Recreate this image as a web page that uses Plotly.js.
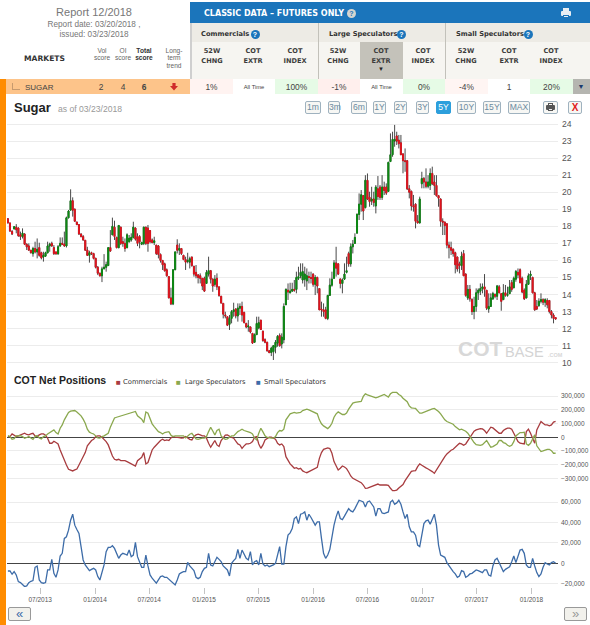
<!DOCTYPE html>
<html><head><meta charset="utf-8">
<script src="https://cdn.plot.ly/plotly-3.0.1.min.js"></script>
<style>
html,body{margin:0;padding:0;background:#fff;width:590px;height:625px;overflow:hidden}
#chart{position:absolute;left:0;top:0;width:590px;height:625px}
#ui{position:absolute;left:0;top:0;width:590px;height:625px;pointer-events:none;font-family:"Liberation Sans",Arial,sans-serif}
#ui div{position:absolute;box-sizing:border-box;white-space:nowrap}
.c{text-align:center;transform:translateX(-50%)}
.h{font-family:"DejaVu Sans",sans-serif;font-weight:bold;font-size:6.6px;color:#3c3c3c;line-height:10px;text-align:center;transform:translateX(-50%)}
.g{font-family:"DejaVu Sans",sans-serif;font-weight:bold;font-size:6.7px;color:#333;top:30px;line-height:9px}
.q{width:9px;height:9px;border-radius:50%;background:#1b75bb;color:#fff;font:bold 7px/9px "Liberation Sans";text-align:center;top:29.5px}
.s{font-size:6.6px;color:#666;line-height:7.4px;text-align:center;transform:translateX(-50%);top:47px}
.v{font-size:8.4px;color:#444;top:83px;line-height:9px;text-align:center;transform:translateX(-50%)}
.cell{top:79px;height:15px}
.b{top:100.5px;height:13px;border:1px solid #9fb2bf;border-radius:2px;background:#f7f7f4;color:#6b8aa0;font-size:8.6px;line-height:11px;text-align:center}
</style></head><body>
<div id="chart"></div>
<div id="ui"></div>
<script>
var open=[18.45,18.2,17.7,17.85,17.95,17.9,17.5,17.4,17.55,16.95,16.85,16.6,16.4,16.7,16.5,16.75,16.45,16.2,16.25,16.45,
16.85,17.0,16.75,16.5,16.38,16.85,17.0,16.95,16.85,18.5,18.95,19.5,19.0,18.25,18.1,17.55,17.4,17.18,16.6,16.3,
16.45,16.4,16.12,15.6,15.25,15.1,15.5,15.6,15.7,16.75,17.5,17.95,17.35,16.75,17.95,17.1,17.0,16.75,17.1,17.2,
17.35,17.9,17.4,17.4,16.95,17.0,17.95,17.9,17.75,17.2,17.05,16.9,16.85,16.35,16.0,15.8,15.45,15.05,13.8,13.45,
15.45,16.9,16.6,16.7,16.3,16.05,15.95,15.9,16.2,15.65,15.3,15.15,15.1,14.95,14.95,14.65,15.2,15.4,14.9,14.6,
14.95,14.45,13.9,13.48,12.8,12.7,12.25,12.6,13.0,13.15,12.75,13.2,13.3,12.95,12.3,12.1,12.1,11.72,11.2,11.65,
12.05,12.5,11.85,11.35,11.2,10.7,10.6,10.65,10.9,11.15,11.6,11.1,11.35,13.4,14.25,14.1,14.2,14.3,14.3,14.95,
15.1,14.85,14.9,14.8,15.05,15.0,15.2,14.6,15.0,14.35,13.15,13.1,13.1,12.6,13.95,14.55,14.95,15.85,15.8,14.9,
14.65,14.9,15.3,16.4,15.8,16.8,17.0,17.6,18.7,19.3,19.8,19.1,20.7,19.7,19.5,19.6,19.2,20.2,20.3,19.7,
20.3,20.3,20.05,21.8,22.2,23.0,23.3,23.05,22.9,22.25,21.85,21.85,20.2,20.05,19.2,19.3,18.3,18.2,20.5,20.8,
20.6,20.35,20.4,21.1,20.6,20.4,19.8,19.6,18.3,18.25,18.15,16.9,16.75,16.65,16.45,16.2,15.8,15.7,16.4,15.2,
13.8,14.3,13.7,13.0,13.3,14.1,14.2,14.35,14.45,14.25,13.15,13.3,13.75,14.0,13.9,14.45,14.05,13.7,14.1,13.95,
14.05,14.7,14.4,14.9,15.3,15.45,14.95,14.25,13.8,14.6,15.1,15.0,14.1,13.3,13.35,13.6,13.7,13.55,13.65,13.65,
13.0,12.8,12.65];
var high=[18.47,18.2,17.78,18.02,18.13,17.94,17.69,17.88,17.59,17.0,17.0,16.61,16.8,17.1,17.29,17.04,16.51,16.51,16.51,17.1,
17.04,17.1,16.9,16.51,16.9,17.35,17.35,17.69,18.57,18.96,20.17,19.7,19.05,18.27,18.13,17.59,17.49,17.2,16.8,16.57,
16.51,16.45,16.16,15.67,15.28,15.63,16.37,15.93,16.76,17.78,18.51,18.33,17.39,18.08,17.98,17.39,17.29,17.59,17.49,17.59,
18.27,17.94,17.59,17.49,17.1,17.98,17.98,18.08,17.78,17.29,17.39,16.9,16.9,16.41,16.02,15.87,15.53,15.05,14.4,15.48,
16.51,17.24,17.0,16.71,16.32,16.22,16.45,16.22,16.22,15.69,15.73,15.2,15.24,14.95,15.05,15.44,16.22,15.44,14.95,15.14,
15.24,14.46,13.91,13.48,12.99,12.7,12.8,13.09,13.52,13.19,13.48,13.48,13.58,12.99,12.35,12.5,12.11,11.72,11.72,12.7,
12.7,12.5,11.88,11.43,11.23,10.75,10.94,11.04,11.33,11.62,11.72,11.72,13.48,14.36,14.65,14.69,14.69,14.85,15.34,15.63,
15.83,15.83,15.63,15.53,15.34,15.34,15.24,15.14,15.05,14.36,13.58,13.48,13.28,13.97,14.95,15.34,16.02,16.8,15.83,14.95,
14.95,15.83,16.22,16.51,17.0,17.2,17.59,18.76,19.93,20.13,19.84,21.0,21.1,20.03,20.32,20.03,20.42,20.95,20.42,21.0,
20.62,20.52,21.79,23.45,23.55,23.95,23.55,23.36,23.36,22.28,22.57,21.89,20.42,20.1,19.84,19.35,18.66,19.74,21.2,20.9,
21.4,21.0,21.4,21.5,21.0,21.0,19.84,19.64,18.47,18.27,18.17,17.1,17.1,16.71,16.51,16.22,15.93,16.51,16.61,15.24,
14.56,14.56,13.78,13.87,14.36,14.36,14.65,14.65,15.2,14.26,14.07,14.07,14.16,14.07,14.56,14.56,14.07,14.61,14.56,14.46,
14.85,14.85,15.05,15.44,15.53,15.53,15.05,14.36,14.85,15.24,15.4,15.05,14.16,13.68,13.78,14.07,13.78,13.78,13.78,13.68,
13.09,12.9,12.66];
var low=[18.17,17.69,17.49,17.82,17.59,17.39,17.2,17.29,16.9,16.61,16.57,16.41,16.22,16.41,16.12,16.22,16.06,15.93,16.22,16.41,
16.51,16.8,16.32,16.35,16.35,16.8,16.9,16.8,16.76,18.47,18.96,18.57,18.27,18.08,17.49,17.35,17.16,16.57,16.26,15.87,
16.32,16.06,15.53,15.14,15.05,14.73,15.53,15.34,15.67,16.51,17.49,17.2,16.71,16.71,16.9,16.8,16.51,16.71,17.04,17.1,
17.29,17.16,16.84,16.71,16.9,16.9,16.9,16.51,17.0,17.0,16.9,16.32,16.12,15.87,15.44,15.34,15.05,13.78,13.38,13.38,
15.44,16.41,16.32,16.32,16.02,15.44,15.83,15.53,15.63,15.05,14.95,14.65,14.65,14.26,14.16,14.65,15.05,14.65,14.16,14.46,
14.26,13.87,13.48,12.6,12.6,12.15,11.92,12.31,12.7,12.6,12.41,12.8,12.41,12.31,12.02,11.82,11.72,11.1,11.18,11.62,
11.96,11.92,11.23,11.14,10.65,10.55,10.39,10.16,10.55,10.94,10.94,10.84,11.14,13.44,13.68,14.07,14.16,14.16,14.07,14.85,
14.95,14.65,14.46,14.26,14.65,14.65,14.46,13.97,14.07,13.09,12.7,12.7,12.55,12.5,13.97,14.46,14.95,15.05,15.14,14.36,
14.07,14.85,15.24,15.63,15.63,16.41,17.0,17.59,18.37,18.86,18.37,19.05,19.55,19.15,19.25,19.15,18.76,19.55,19.55,19.55,
19.84,19.84,20.03,21.79,22.08,22.67,22.77,22.57,22.18,21.11,21.2,20.13,19.64,18.92,18.86,17.88,18.17,18.17,20.23,20.23,
20.23,20.23,20.13,20.42,19.84,19.74,19.15,17.98,17.49,17.49,16.71,16.12,16.32,16.22,15.24,15.34,15.24,15.44,15.14,13.87,
13.68,13.58,12.8,12.55,12.99,13.68,13.97,14.07,13.87,13.09,12.93,13.28,13.68,13.78,13.68,14.07,13.05,13.87,13.87,13.87,
14.07,14.16,14.36,14.75,14.95,14.65,14.07,13.68,13.78,14.56,14.85,14.07,13.05,13.09,13.28,13.48,13.38,13.28,13.19,12.89,
12.6,12.31,12.54];
var close=[18.2,17.72,17.55,17.98,17.8,17.45,17.4,17.6,16.95,16.8,16.6,16.45,16.7,16.5,16.65,16.3,16.15,16.3,16.45,16.85,
16.95,16.85,16.4,16.38,16.8,17.0,16.95,16.85,18.5,18.9,19.5,18.95,18.3,18.1,17.55,17.4,17.2,16.6,16.3,16.45,
16.4,16.12,15.6,15.25,15.1,15.5,15.6,15.75,16.75,16.55,18.0,17.4,16.75,18.05,17.0,17.0,16.7,17.5,17.3,17.35,
17.95,17.25,17.0,17.1,17.05,17.95,17.0,17.0,17.1,17.05,17.15,16.4,16.35,16.0,15.75,15.4,15.1,13.8,13.45,15.45,
16.5,16.6,16.7,16.4,16.05,15.9,15.98,16.1,15.7,15.2,15.1,15.0,14.95,14.5,14.2,15.3,15.4,14.9,14.5,14.9,
14.45,13.95,13.5,12.85,12.75,12.2,12.6,13.0,13.1,12.75,13.2,13.3,12.8,12.35,12.1,12.15,11.8,11.15,11.65,12.3,
12.35,11.95,11.3,11.2,10.7,10.6,10.85,11.0,11.2,11.55,11.0,11.5,13.3,14.3,14.15,14.2,14.3,14.25,15.0,15.05,
15.3,15.35,15.2,15.1,15.0,14.95,14.6,15.0,14.5,13.1,13.1,13.0,12.6,13.95,14.55,14.9,15.85,15.55,15.2,14.65,
14.85,15.2,15.4,15.8,16.8,16.95,17.35,18.7,19.3,19.85,18.9,20.7,19.6,19.45,19.6,19.4,20.3,19.75,19.7,20.3,
20.1,19.95,21.75,22.2,23.1,23.1,23.0,22.85,22.2,21.85,21.8,20.2,20.0,19.2,19.15,18.3,18.2,19.6,20.8,20.6,
20.35,20.6,21.1,20.5,20.4,19.8,19.65,18.3,18.25,18.05,16.9,16.75,16.6,16.4,15.75,15.5,15.7,16.25,15.1,13.95,
14.3,13.75,13.0,13.3,14.1,14.25,14.35,14.45,14.3,13.2,13.3,13.8,14.05,13.9,14.5,14.1,13.6,14.1,13.95,14.0,
14.45,14.3,14.95,15.35,15.15,14.7,14.15,13.75,14.6,15.1,15.2,14.1,13.1,13.15,13.6,13.7,13.55,13.7,13.4,13.0,
12.8,12.6,12.56];
var commercials=[5,5,24,15,5,10,17,24,29,20,17,24,29,10,5,17,24,24,15,-7,-44,-44,-29,-39,-49,-93,-129,-178,-203,-234,-242,-246,-239,-232,-203,-171,-146,-112,-63,-39,
-24,-15,5,10,10,0,-15,-32,-56,-105,-137,-161,-166,-161,-171,-171,-171,-178,-185,-195,-203,-210,-171,-161,-146,-112,-195,-185,-146,-93,-73,-56,-39,-24,-15,-24,-20,-24,-5,5,
0,0,-2,-7,-5,5,-7,-15,-20,5,17,22,17,10,10,-7,-44,-73,-49,-24,-56,-68,-24,-7,15,17,5,-2,-7,-32,-49,-56,-81,-63,-49,-49,-44,-32,0,5,
-49,-81,-56,-20,-7,0,0,-5,-15,-44,-56,-49,-68,-142,-171,-195,-210,-227,-222,-232,-227,-246,-254,-259,-251,-244,-234,-229,-220,-154,-112,-88,-81,-78,-83,-117,-178,-215,-239,-227,
-210,-217,-229,-254,-283,-300,-307,-315,-325,-332,-349,-373,-371,-366,-361,-354,-346,-342,-349,-351,-349,-349,-351,-373,-390,-390,-386,-371,-356,-346,-317,-293,-268,-249,-246,-244,-215,-195,-205,-217,
-224,-232,-239,-251,-264,-239,-215,-195,-161,-142,-122,-105,-95,-88,-73,-56,-44,-49,-59,-49,-24,0,24,44,54,59,63,61,49,29,49,73,68,54,44,29,29,49,59,66,
66,59,29,-7,-32,-44,-49,-49,41,59,29,-7,-44,54,90,115,102,90,90,83,90,110,115];
var largeSpeculators=[12,5,-15,-10,10,10,12,5,-7,-2,5,-5,-15,5,12,-5,-12,5,10,24,34,49,54,34,24,66,90,127,151,181,190,195,195,185,171,156,132,102,59,37,
29,24,10,-5,-7,5,10,17,29,73,115,141,146,151,156,159,163,166,171,176,183,188,156,146,132,107,185,176,139,98,78,59,41,34,24,34,39,41,15,5,
10,10,12,12,10,-5,10,22,29,5,-12,-15,-10,-7,-7,5,41,73,46,17,49,59,10,-7,-15,-12,0,10,10,29,41,49,59,49,41,39,34,24,-7,-20,
29,66,39,10,-2,-7,-7,-7,5,34,49,46,59,127,151,171,176,181,176,181,181,195,203,205,200,193,190,183,171,127,98,83,73,63,78,102,146,171,185,176,
166,166,176,205,229,249,254,256,259,261,298,317,310,303,298,293,288,293,298,303,312,303,293,317,327,327,327,312,303,285,273,259,229,215,212,210,193,176,176,183,
188,195,200,207,210,200,188,171,146,127,115,107,100,95,78,63,54,59,54,44,29,5,-15,-39,-54,-59,-59,-54,-39,-24,-49,-73,-68,-59,-49,-24,-24,-39,-44,-59,
-66,-59,-32,10,24,34,34,37,-49,-59,-44,-7,17,-63,-81,-105,-100,-93,-88,-88,-98,-117,-117];
var smallSpeculators=[-7.5,-7.5,-10.7,-8.1,-11.4,-17.9,-18.9,-21.1,-22.8,-22.1,-18.9,-17.6,-16.9,-3.9,-2.6,-16.3,-18.9,-19.5,-18.9,-6.5,-6.5,3.9,-9.8,-13.7,-6.5,7.2,9.8,24.4,26,32.5,42.3,48.1,37.4,33.2,29.3,16.3,3.3,-1.6,-4.9,-7.2,
-5.9,-4.9,-6.5,-13,-16.3,-9.8,-1.6,11.4,15.6,15.6,17.2,14.6,9.8,4.9,8.1,9.8,9.1,8.1,13,6.5,8.1,20.5,6.5,1.6,-3.9,-3.9,8.1,-2.6,-11.4,-14.6,-16.9,-19.5,-16.3,-13,-12.4,-13.7,-13.7,-15.6,-16.9,-18.9,
-21.1,-16.3,-10.4,-9.1,-8.1,-8.1,1,-2.6,-4.9,-7.2,-13.7,-15,-13.7,-8.1,-4.9,-3.9,9.8,-1.6,-2.6,1.6,5.9,3.9,1.6,-2.6,-4.9,-6.5,-12.4,0,2.6,4.9,13.7,4.9,13,8.1,4.9,3.3,11.4,-1.6,1.6,2.6,
-1.6,9.8,-0.7,-2.6,-1.6,-3.3,-2.6,-1.6,0,9.8,16.3,-0.7,-0.7,16.3,27.6,29.9,34.1,43.9,45.5,39,48.1,48.8,50.4,42.3,48.1,44.9,41.6,37.4,40.6,40.6,24.4,9.8,4.9,8.1,13.7,26,37.4,45.5,51.4,43.9,
42.9,46.2,49.4,53.6,51.4,50.4,53.6,57.9,61.8,61.1,60.1,55.3,60.1,61.1,58.5,55.3,46.2,53.6,53.6,49.4,48.8,49.4,50.4,60.1,61.8,57.9,59.2,61.8,57.9,50.4,43.9,48.1,35.8,30.9,30.9,27.6,17.9,16.3,29.3,39,
41.6,42.3,38.4,43.9,48.1,37.4,17.9,8.1,7.2,5.9,0.7,-2.6,-4.9,-8.1,-10.4,-13.7,-12.4,-7.2,-8.1,-13.7,-12.4,-10.4,-9.8,-8.1,-6.5,-7.2,-8.1,-9.1,-6.5,-6.5,-11.4,-12.4,-2.6,3.3,4.9,0.7,-3.9,-8.1,-5.9,-4.9,
-3.3,1.6,7.2,0.7,8.1,13,13.7,9.8,-1.6,-3.9,-3.9,4.9,-2.6,-9.1,-13,-10.4,-3.9,0.7,-0.7,-1.6,0.7,1.6,0];
var priceTicks=[10,11,12,13,14,15,16,17,18,19,20,21,22,23,24];
var rangeButtons=["1m","3m","6m","1Y","2Y","3Y","5Y","10Y","15Y","MAX"];

var dates=[];var t0=Date.UTC(2013,2,15);
for(var i=0;i<close.length;i++){dates.push(new Date(t0+i*7*864e5).toISOString().slice(0,10));}
var bodyHigh=open.map(function(o,i){return Math.max(o,close[i]);});
var bodyLow=open.map(function(o,i){return Math.min(o,close[i]);});
function k(a,m){return a.map(function(v){return v*m;});}

var wick={type:"candlestick",x:dates,open:open,high:high,low:low,close:close,xaxis:"x",yaxis:"y",hoverinfo:"skip",showlegend:false,
 increasing:{line:{color:"#1a1a1a",width:0.8},fillcolor:"rgba(0,0,0,0)"},decreasing:{line:{color:"#1a1a1a",width:0.8},fillcolor:"rgba(0,0,0,0)"},whiskerwidth:0};
var body={type:"candlestick",x:dates,open:open,high:bodyHigh,low:bodyLow,close:close,xaxis:"x",yaxis:"y",hoverinfo:"skip",showlegend:false,
 increasing:{line:{color:"#0b8a12",width:0.9},fillcolor:"#0b8a12"},decreasing:{line:{color:"#e3121c",width:0.9},fillcolor:"#e3121c"},whiskerwidth:0};
function ln(y,axis,color,name){return {type:"scatter",mode:"lines",x:dates,y:y,yaxis:axis,xaxis:"x",name:name,line:{color:color,width:1.3},hoverinfo:"skip",showlegend:false};}
var traces=[wick,body,
 ln(k(commercials,1000),"y2","#a83c3f","Commercials"),
 ln(k(largeSpeculators,1000),"y2","#8aa84e","Large Speculators"),
 ln(k(smallSpeculators,1000),"y3","#3d6ca8","Small Speculators")];

function fy(py){return 1-py/625;}
var tf={family:'"Liberation Sans",Arial,sans-serif',size:6.5,color:"#555"};
function ann(text,x,y,size,color,fam,anchor){return {text:text,xref:"paper",yref:"paper",x:x/590,y:fy(y),xanchor:anchor||"left",yanchor:"middle",showarrow:false,borderpad:0,
 font:{family:fam||'"Liberation Sans",Arial,sans-serif',size:size,color:color}};}
var dj='"DejaVu Sans",sans-serif';
var layout={width:590,height:625,margin:{l:0,r:0,t:0,b:0,pad:0},paper_bgcolor:"rgba(0,0,0,0)",plot_bgcolor:"rgba(0,0,0,0)",showlegend:false,boxmode:"overlay",
 xaxis:{type:"date",domain:[7/590,558/590],range:["2013-03-12","2018-03-31"],anchor:"y3",rangeslider:{visible:false},dtick:"M6",tick0:"2013-07-01",tickformat:"%m/%Y",ticks:"outside",ticklen:6,tickcolor:"#c4c4c4",tickwidth:1,showgrid:false,showline:false,zeroline:false,tickfont:tf},
 yaxis:{domain:[fy(368),fy(122)],range:[9.69,24.12],side:"right",anchor:"x",tickmode:"array",tickvals:priceTicks,ticktext:priceTicks.map(String),gridcolor:"#ececec",gridwidth:1,zeroline:false,showline:false,ticks:"",ticklabelstandoff:3,tickfont:{family:tf.family,size:8.6,color:"#555"}},
 yaxis2:{domain:[fy(492),fy(390)],range:[-400000,345000],side:"right",anchor:"x",tickvals:[-300000,-200000,-100000,0,100000,200000,300000],tickformat:",d",gridcolor:"#ececec",zeroline:true,zerolinecolor:"#444",zerolinewidth:1,showline:false,ticks:"",ticklabelstandoff:2,tickfont:tf},
 yaxis3:{domain:[fy(587),fy(497)],range:[-23200,65000],side:"right",anchor:"x",tickvals:[-20000,0,20000,40000,60000],tickformat:",d",gridcolor:"#ececec",zeroline:true,zerolinecolor:"#444",zerolinewidth:1,showline:false,ticks:"",ticklabelstandoff:2,tickfont:tf},
 annotations:[
  ann("<b>Sugar</b>",12.5,107,13,"#222"),
  ann("as of 03/23/2018",57,109,8.6,"#999"),
  ann("<b>COT Net Positions</b>",12.5,380,10.5,"#222"),
  ann('<span style="color:#a83c3f">■</span>',114.5,382,8,"#a83c3f"),
  ann("Commercials",122,382,6.8,"#333",dj),
  ann('<span style="color:#8aa84e">■</span>',175.5,382,8,"#8aa84e"),
  ann("Large Speculators",184,382,6.7,"#333",dj),
  ann('<span style="color:#3d6ca8">■</span>',254.5,382,8,"#3d6ca8"),
  ann("Small Speculators",263,382,6.9,"#333",dj),
  ann("<b>COT</b>",457,348,21,"#d8d8d8"),
  ann("BASE",504,352,14.5,"#d4d4d4"),
  ann("<b>.COM</b>",547,355,5.5,"#d8d8d8")
 ]};
Plotly.newPlot("chart",traces,layout,{staticPlot:true,displayModeBar:false});

var u=document.getElementById("ui"),html="";
function d(style,cls,txt){html+='<div class="'+(cls||"")+'" style="'+style+'">'+(txt||"")+'</div>';}
d("left:0;top:79px;width:6px;height:546px;background:#ff8c00");
d("left:6px;top:79px;width:184px;height:15px;background:#fdc48a");
d("left:190px;top:2px;width:400px;height:21px;background:#1b75bb");
d("left:190px;top:23px;width:400px;height:19px;background:#edebe5");
d("left:190px;top:42px;width:400px;height:37px;background:#f6f5f1");
d("left:190px;top:23px;width:1.5px;height:56px;background:#cfcfcf");
d("left:318px;top:23px;width:1px;height:56px;background:#c2c1ba");
d("left:445px;top:23px;width:1px;height:56px;background:#c2c1ba");
d("left:360px;top:42px;width:43px;height:37px;background:#c4c2ba");
d("left:94px;top:6px;font-size:11px;color:#777;line-height:12px","c","Report 12/2018");
d("left:94px;top:20px;font-size:8.2px;color:#777;line-height:10px","c","Report date: 03/20/2018 ,");
d("left:94px;top:30px;font-size:8.2px;color:#777;line-height:10px","c","issued: 03/23/2018");
d("left:24px;top:54px;font:bold 7.6px/10px 'DejaVu Sans';color:#333","","MARKETS");
d("left:102px","s","Vol<br>score");
d("left:123px","s","OI<br>score");
d("left:144px;font-weight:bold;color:#333","s","Total<br>score");
d("left:174px;top:47px","s","Long-<br>term<br>trend");
d("left:12px;top:83px;width:8px;height:7px;border-left:1px solid #c79a6e;border-bottom:1px solid #c79a6e");
d("left:25px;top:83px;font-size:8px;color:#444;line-height:9px","","SUGAR");
d("left:101px","v","2");d("left:123px","v","4");d("left:144px;font-weight:bold","v","6");
d("left:170px;top:82.5px;width:8px;height:8px;background:#cf2b2b;clip-path:polygon(30% 0,70% 0,70% 45%,100% 45%,50% 100%,0 45%,30% 45%)");
d("left:204px;top:8px;font:bold 8px/11px 'DejaVu Sans';color:#fff","","CLASSIC DATA – FUTURES ONLY");
d("left:347px;top:8.5px;background:#d5d5d0;color:#1b75bb;width:9px;height:9px;border-radius:50%;font:bold 7px/9px 'Liberation Sans';text-align:center","","?");
d("left:563px;top:8px;width:6px;height:4px;background:#e8eef3");
d("left:561px;top:11px;width:10px;height:5px;background:#e8eef3;border-radius:1px");
d("left:563px;top:14.5px;width:6px;height:3.5px;background:#e8eef3;border:0.5px solid #1b75bb");
d("left:201px","g","Commercials");d("left:250.5px","q","?");
d("left:329px","g","Large Speculators");d("left:397px","q","?");
d("left:456px","g","Small Speculators");d("left:523.5px","q","?");
var heads=[[212,"52W<br>CHNG"],[253,"COT<br>EXTR"],[295,"COT<br>INDEX"],[338,"52W<br>CHNG"],[381,"COT<br>EXTR"],[423,"COT<br>INDEX"],[466,"52W<br>CHNG"],[509,"COT<br>EXTR"],[551,"COT<br>INDEX"]];
heads.forEach(function(h){d("left:"+h[0]+"px;top:46px","h",h[1]);});
d("left:381px;top:66px;font-size:6px;color:#222;line-height:7px","c","▼");
var cells=[[190,43,"#fff3f1","1%"],[233,42,"#fff","All Time"],[275,43,"#e6fbe6","100%"],[318,42,"#ffefed","-1%"],[360,43,"#fff","All Time"],[403,42,"#e6fbe6","0%"],[445,43,"#fff5f3","-4%"],[488,42,"#fff","1"],[530,43,"#e6fbe6","20%"]];
cells.forEach(function(c){
 d("left:"+c[0]+"px;width:"+c[1]+"px;background:"+c[2],"cell");
 var sm=c[3]==="All Time";
 d("left:"+(c[0]+c[1]/2)+"px;"+(sm?"font-size:5.8px;":""),"v",c[3]);
});
d("left:573px;top:79px;width:17px;height:15px;background:#b5b5b0");
d("left:581px;top:83px;font-size:7px;color:#1b3a6e;line-height:8px","c","▼");
var bx=[[305,16],[328,12],[351,16],[373,13],[394,13],[416,13],[436,15],[457,19],[483,18],[508,22]];
bx.forEach(function(b,i){
 var on=rangeButtons[i]==="5Y";
 d("left:"+b[0]+"px;width:"+b[1]+"px;"+(on?"background:#2d9fdc;border-color:#2d9fdc;color:#fff;":""),"b",rangeButtons[i]);
});
d("left:543px;width:15px","b","");
d("left:548px;top:102.5px;width:5px;height:3px;border:1px solid #555");
d("left:546px;top:105px;width:9px;height:4.5px;background:#555;border-radius:1px");
d("left:548px;top:108px;width:5px;height:3px;background:#eee;border:0.5px solid #555");
d("left:568px;width:14px;color:#e02020;font-weight:bold;font-size:10px","b","X");
d("left:8px;top:607px;width:23px;height:14px;border:1px solid #999;background:#f2f1ec;color:#3d6ca8;font-size:13px;line-height:11px;text-align:center;border-radius:2px","","«");
d("left:564px;top:607px;width:23px;height:14px;border:1px solid #999;background:#f2f1ec;color:#999;font-size:13px;line-height:11px;text-align:center;border-radius:2px","","»");
u.innerHTML=html;
</script>
</body></html>
